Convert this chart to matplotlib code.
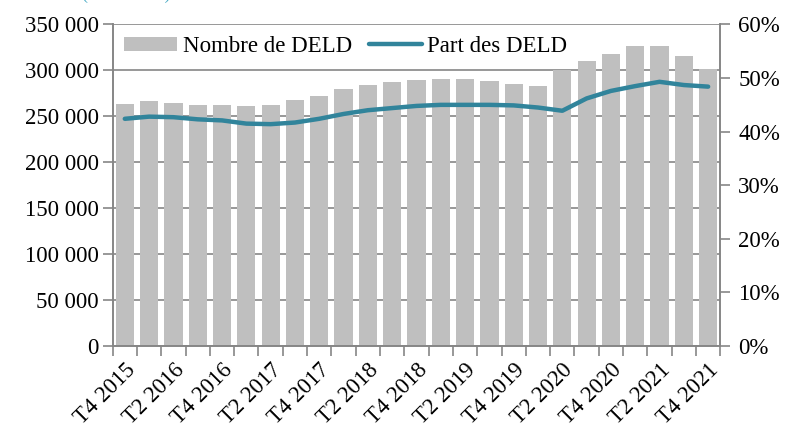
import matplotlib.pyplot as plt
import numpy as np

plt.rcParams['font.family'] = ['Liberation Serif', 'DejaVu Serif']

# quarters from T4 2015 to T4 2021
quarters = ['T4 2015', 'T1 2016', 'T2 2016', 'T3 2016', 'T4 2016', 'T1 2017', 'T2 2017',
            'T3 2017', 'T4 2017', 'T1 2018', 'T2 2018', 'T3 2018', 'T4 2018', 'T1 2019',
            'T2 2019', 'T3 2019', 'T4 2019', 'T1 2020', 'T2 2020', 'T3 2020', 'T4 2020',
            'T1 2021', 'T2 2021', 'T3 2021', 'T4 2021']
nb_deld = [263500, 266500, 264000, 262300, 262600, 260800, 262600, 267400, 272600,
           279500, 284200, 287900, 289700, 290800, 290400, 288600, 284900, 282700,
           300200, 310000, 317600, 327000, 326300, 315800, 302000]
part_deld = [42.4, 42.8, 42.7, 42.3, 42.1, 41.5, 41.4, 41.7, 42.4, 43.3, 44.0, 44.4,
             44.8, 45.0, 45.0, 45.0, 44.9, 44.5, 43.9, 46.2, 47.6, 48.5, 49.3, 48.7, 48.4]

grey_bar = '#BFBFBF'
teal = '#31849B'
axis_grey = '#868686'
fs = 16.5

fig = plt.figure(figsize=(7.85, 4.28), dpi=100)
ax = fig.add_axes([0.1435, 0.1916, 0.7741, 0.7512])
ax2 = ax.twinx()

x = np.arange(len(quarters))
bars = ax.bar(x, nb_deld, width=0.75, color=grey_bar, zorder=2, label='Nombre de DELD')
ax.set_xlim(-0.5, len(quarters) - 0.5)
ax.set_ylim(0, 350000)
ax.set_yticks(np.arange(0, 350001, 50000))
ax.set_yticklabels([f'{v:,}'.replace(',', ' ') for v in range(0, 350001, 50000)], fontsize=fs)
ax.yaxis.grid(True, color=axis_grey, linewidth=1.2, zorder=0)
ax.set_axisbelow(True)

# category boundary ticks, labels every 2 quarters
ax.set_xticks(np.arange(-0.5, len(quarters), 1), minor=False)
ax.set_xticklabels([])
ax.set_xticks(x[::2], minor=True)
ax.set_xticklabels(quarters[::2], minor=True, rotation=45, ha='right',
                   rotation_mode='anchor', fontsize=fs)
ax.tick_params(axis='x', which='major', length=7, color=axis_grey, width=1.2)
ax.tick_params(axis='x', which='minor', length=0, pad=10)
ax.tick_params(axis='y', length=7, color=axis_grey, width=1.2, pad=3)

line, = ax2.plot(x, part_deld, color=teal, linewidth=3.2, solid_capstyle='round',
                 label='Part des DELD', zorder=3)
ax2.set_ylim(0, 60)
ax2.set_yticks(np.arange(0, 61, 10))
ax2.set_yticklabels([f'{v}%' for v in range(0, 61, 10)], fontsize=fs)
ax2.tick_params(axis='y', length=7, color=axis_grey, width=1.2, pad=6)

for a in (ax, ax2):
    for side in ('left', 'right', 'bottom'):
        a.spines[side].set_color(axis_grey)
        a.spines[side].set_linewidth(1.2)
    a.spines['top'].set_visible(False)

ax.legend([bars, line], ['Nombre de DELD', 'Part des DELD'], loc='upper left',
          bbox_to_anchor=(0.0, 1.0), borderaxespad=0.1, ncol=2, frameon=False,
          fontsize=fs, handlelength=2.3, handleheight=0.6, columnspacing=0.75,
          handletextpad=0.25)

fig.text(0.105, 1 + 1.5 / 428, '(en nombre)', color='#4BACC6', fontsize=13,
         va='baseline', ha='left')

fig.savefig('out.png', dpi=100)
